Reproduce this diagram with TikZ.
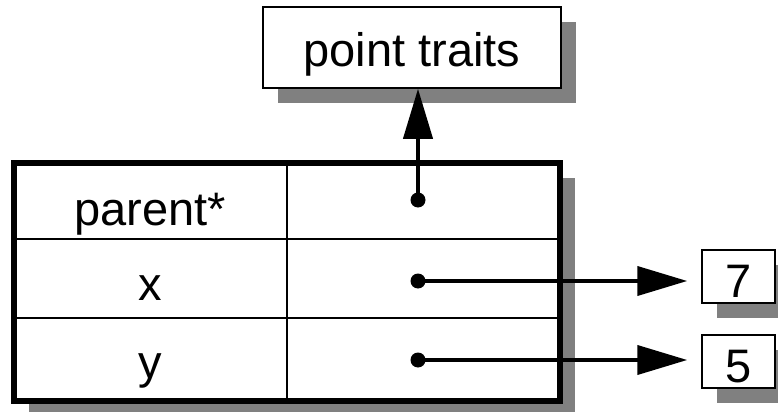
\documentclass[tikz,border=0pt]{standalone}
\usepackage{fontspec}
\setmainfont{Liberation Sans}
\usepackage{tikz}
\usetikzlibrary{arrows.meta}
\usetikzlibrary{shadows}

\definecolor{shadowgray}{RGB}{128,128,128}

\begin{document}
\begin{tikzpicture}[x=0.5pt,y=-0.5pt,
  every node/.style={font=\fontsize{23.5}{28}\selectfont},
  valbox/.style={draw,fill=white,line width=0.75pt,inner sep=0pt,anchor=base,
    general shadow={fill=shadowgray,shadow xshift=7.25pt,shadow yshift=-7.25pt}},
  field/.style={inner sep=0pt,anchor=base},
  ptr/.style={line width=2pt,-{Triangle[length=25pt,width=14.5pt]}},
  ptrdot/.style={fill,circle,inner sep=0pt,minimum size=7.5pt}]
  \useasboundingbox (0,0) rectangle (778,412);
  \clip (0,0) rectangle (778,412);
  % object with its three slots
  \fill[shadowgray]
    (29,178)
    rectangle
    (575,416);
  \filldraw[fill=white,line width=3pt]
    (14,163)
    rectangle
    (560,401);
  \draw[line width=1pt]
    (14,239)
    --
    (560,239);
  \draw[line width=1pt]
    (14,318)
    --
    (560,318);
  \draw[line width=1pt]
    (287,163)
    --
    (287,401);
  \node[field] (parent) at (150,225) {parent*};
  \node[field] (xname) at (150,300) {x};
  \node[field] (yname) at (150,378) {y};
  % what the slots point to
  \node[valbox,minimum width=149pt,text height=30pt,text depth=10.5pt]
    (traits) at (412,67) {point traits};
  \node[valbox,minimum width=36.5pt,text height=23.5pt,text depth=3pt]
    (xval) at (738.5,297) {7};
  \node[valbox,minimum width=36.5pt,text height=23.5pt,text depth=3pt]
    (yval) at (738.5,382) {5};
  \node[ptrdot] (pdot) at (418,200) {};
  \node[ptrdot] (xdot) at (418,281) {};
  \node[ptrdot] (ydot) at (418,360) {};
  \draw[ptr]
    (pdot.center)
    --
    (pdot.center |- traits.south);
  \draw[ptr,shorten >=7pt]
    (xdot.center)
    --
    (xdot.center -| xval.west);
  \draw[ptr,shorten >=7pt]
    (ydot.center)
    --
    (ydot.center -| yval.west);
\end{tikzpicture}
\end{document}
